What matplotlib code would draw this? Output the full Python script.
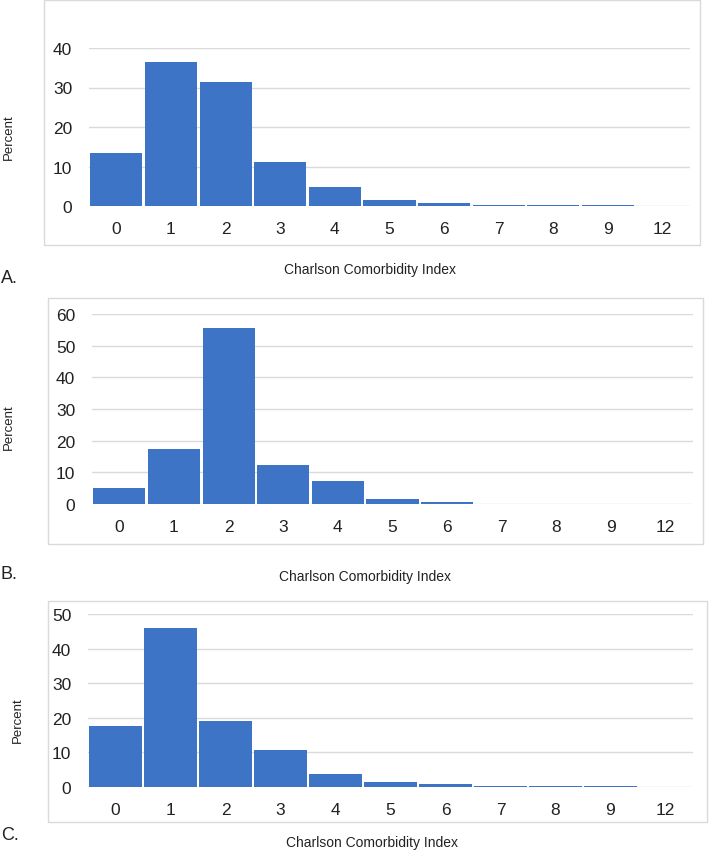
import matplotlib.pyplot as plt
from matplotlib.patches import Rectangle

plt.rcParams["font.family"] = ["Liberation Sans", "DejaVu Sans"]

BAR_COLOR = "#3D74C5"
GRID_COLOR = "#DADADA"

categories = ["0", "1", "2", "3", "4", "5", "6", "7", "8", "9", "12"]

percent_a = [13.3, 36.5, 31.5, 11.2, 4.9, 1.4, 0.8, 0.2, 0.35, 0.25, 0.08]
percent_b = [4.9, 17.4, 55.7, 12.4, 7.2, 1.6, 0.5, 0.0, 0.0, 0.0, 0.0]
percent_c = [17.5, 45.9, 19.2, 10.6, 3.7, 1.35, 0.9, 0.28, 0.33, 0.28, 0.06]

W, H = 709, 853


def fx(px):
    return px / W


def fy(py):
    return 1 - py / H


def draw_panel(fig, values, ymax, plot_box, frame, ylabel_xy, xlabel_xy, letter_xy, letter):
    x0, x1, y_top, y_bot = plot_box
    ax = fig.add_axes([fx(x0), fy(y_bot), fx(x1) - fx(x0), fy(y_top) - fy(y_bot)])
    ax.bar(range(len(categories)), values, width=0.955, color=BAR_COLOR,
           linewidth=0, zorder=3)
    ax.set_xlim(-0.5, len(categories) - 0.5)
    ax.set_ylim(0, ymax)
    ax.set_yticks(range(0, ymax + 1, 10))
    ax.set_xticks(range(len(categories)))
    ax.set_xticklabels(categories)
    ax.tick_params(axis="both", length=0, labelsize=12.5, colors="#222222")
    ax.tick_params(axis="x", pad=11)
    ax.tick_params(axis="y", pad=12)
    ax.grid(axis="y", color=GRID_COLOR, linewidth=1, zorder=0)
    for s in ax.spines.values():
        s.set_visible(False)
    ax.set_facecolor("none")

    # light frame around each chart
    fl, fr, ft, fb = frame
    fig.patches.append(Rectangle((fx(fl), fy(fb)), fx(fr) - fx(fl), fy(ft) - fy(fb),
                                 transform=fig.transFigure, fill=False,
                                 edgecolor=GRID_COLOR, linewidth=1, zorder=0))

    fig.text(fx(ylabel_xy[0]), fy(ylabel_xy[1]), "Percent", rotation=90,
             ha="center", va="center", fontsize=9.5, color="#222222")
    fig.text(fx(xlabel_xy[0]), fy(xlabel_xy[1]), "Charlson Comorbidity Index",
             ha="center", va="center", fontsize=10, color="#222222")
    fig.text(fx(letter_xy[0]), fy(letter_xy[1]), letter,
             ha="left", va="center", fontsize=13, color="#222222")
    return ax


fig = plt.figure(figsize=(W / 100, H / 100), dpi=100)

draw_panel(fig, percent_a, 40, (89, 690, 49, 207), (44, 700, 1, 246),
           (9, 137), (370, 270), (1, 279), "A.")
draw_panel(fig, percent_b, 60, (92, 693, 315, 505), (48, 703, 299, 545),
           (9, 427), (365, 577), (1, 575), "B.")
draw_panel(fig, percent_c, 50, (88, 693, 615, 788), (48, 707, 602, 823),
           (18, 720), (372, 843), (1, 836), "C.")

plt.savefig("out.png", dpi=100)
